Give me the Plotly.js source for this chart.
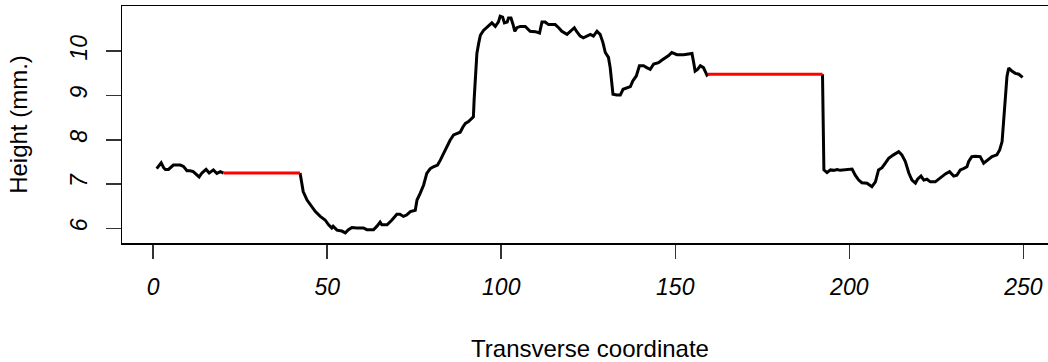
<!DOCTYPE html>
<html>
<head>
<meta charset="utf-8">
<script src="https://cdn.plot.ly/plotly-3.0.1.min.js"></script>
<style>
  html, body { margin: 0; padding: 0; background: #fff; overflow: hidden; }
  #chart { width: 1070px; height: 362px; }
</style>
</head>
<body>
<div id="chart"></div>
<script>
// Transverse height profile (mm.) with the two gaps bridged in red.
const profileX = [
  1, 2.3, 3, 3.5, 4.4, 5.8, 7.8, 8.7, 9.7, 10.6, 11.5, 12, 13.2, 14, 15.2, 16.1, 17.3, 18.3, 19.3, 20.2,
  null,
  42.2, 42.7, 43.1, 44.2, 45.1, 46.6, 48, 49.4, 50.4, 51.3, 51.7, 52.8, 54.2, 55.2, 56.1, 57.1, 58.5, 60.4,
  61.4, 63.3, 64.3, 65.2, 65.7, 67.2, 68.6, 70, 70.9, 71.9, 72.8, 73.9, 75.3, 75.8, 76.7, 77.7, 78.6, 79.6,
  80.5, 81.7, 82.5, 83.4, 84.4, 85.3, 86.3, 87.2, 88.2, 89, 89.7, 90.6, 91.6, 92, 92.2, 92.5, 93, 93.5, 94,
  94.9, 95.9, 97.3, 98.3, 99.2, 99.7, 100.4, 100.9, 101.7, 102.1, 102.8, 103.4, 103.9, 104.5, 105.5, 106.9,
  108.3, 109.8, 111, 111.7, 112.6, 113.6, 115.5, 116.5, 117.4, 118.9, 119.8, 121, 121.7, 122.7, 123.6, 124.6,
  125.6, 126.5, 127.5, 128.4, 129.2, 129.9, 130.8, 131.3, 131.8, 132.1, 133.2, 134.2, 135, 136.1, 137.1,
  137.8, 138.8, 139.7, 140.9, 141.8, 142.8, 143.8, 145.2, 146.2, 147.1, 148.1, 149, 150.5, 152.4, 153.4,
  154.8, 155.3, 155.7, 156.4, 157.2, 158.1, 158.6, 159.1, 159.4,
  null,
  192.3, 192.6, 192.7, 193.6, 194.6, 195.5, 196.5, 197.4, 198.4, 199.3, 200.8, 201.7, 202.7, 203.6, 205.1,
  206.5, 207.5, 208.4, 209.4, 210.3, 211.3, 212.7, 214.2, 215.1, 216.1, 217.1, 218, 219, 219.6, 220.6, 221.4,
  222.3, 223.3, 224.7, 225.7, 226.6, 227.6, 228.8, 230, 230.9, 231.9, 232.8, 233.8, 234.3, 235.2, 236.2,
  237.6, 238.6, 239.6, 241, 242.4, 243.2, 243.9, 244.3, 244.8, 245.3, 245.8, 246.7, 247.7, 248.7, 249.8
];
const profileY = [
  7.35, 7.48, 7.37, 7.33, 7.33, 7.43, 7.43, 7.40, 7.30, 7.30, 7.28, 7.25, 7.16, 7.25, 7.33, 7.25, 7.32, 7.24, 7.28, 7.25,
  null,
  7.25, 7.02, 6.83, 6.64, 6.55, 6.38, 6.27, 6.19, 6.08, 6.01, 6.05, 5.96, 5.94, 5.90, 5.97, 6.02, 6.01, 6.01,
  5.97, 5.97, 6.05, 6.14, 6.08, 6.08, 6.19, 6.32, 6.32, 6.27, 6.30, 6.38, 6.41, 6.64, 6.79, 6.98, 7.24, 7.35,
  7.39, 7.43, 7.54, 7.69, 7.84, 7.99, 8.11, 8.14, 8.17, 8.29, 8.37, 8.41, 8.48, 8.52, 8.89, 9.42, 9.95, 10.17, 10.36,
  10.47, 10.55, 10.64, 10.56, 10.66, 10.79, 10.77, 10.64, 10.66, 10.75, 10.75, 10.60, 10.45, 10.53, 10.56, 10.56,
  10.45, 10.44, 10.41, 10.66, 10.66, 10.60, 10.60, 10.53, 10.45, 10.38, 10.44, 10.53, 10.44, 10.34, 10.30, 10.34,
  10.38, 10.34, 10.45, 10.38, 10.20, 9.97, 9.86, 9.63, 9.26, 9.03, 9.01, 9.01, 9.14, 9.18, 9.20,
  9.33, 9.44, 9.67, 9.67, 9.63, 9.59, 9.71, 9.74, 9.80, 9.84, 9.90, 9.97, 9.92, 9.92, 9.93,
  9.95, 9.74, 9.55, 9.59, 9.67, 9.63, 9.55, 9.46, 9.48,
  null,
  9.48, 8.41, 7.32, 7.26, 7.32, 7.31, 7.33, 7.31, 7.32, 7.34, 7.34, 7.20, 7.09, 7.03, 7.02,
  6.94, 7.05, 7.32, 7.37, 7.47, 7.58, 7.66, 7.73, 7.66, 7.51, 7.25, 7.09, 7.02, 7.11, 7.18, 7.09,
  7.11, 7.05, 7.05, 7.11, 7.17, 7.23, 7.28, 7.18, 7.20, 7.32, 7.35, 7.39, 7.51, 7.62, 7.63,
  7.62, 7.47, 7.54, 7.62, 7.66, 7.77, 7.96, 8.37, 8.98, 9.43, 9.62, 9.55, 9.50, 9.48, 9.41
];

// Bridged gaps (drawn in red)
const gapX = [20.2, 42.2, null, 159.4, 192.3];
const gapY = [7.25, 7.25, null, 9.48, 9.48];

const xTicks = [0, 50, 100, 150, 200, 250];
const yTicks = [6, 7, 8, 9, 10];

const fontFamily = '"Liberation Sans", Arial, Helvetica, sans-serif';

const traces = [
  {
    x: profileX, y: profileY, type: 'scatter', mode: 'lines',
    line: { color: '#000000', width: 3 }, connectgaps: false, hoverinfo: 'x+y'
  },
  {
    x: gapX, y: gapY, type: 'scatter', mode: 'lines',
    line: { color: '#ff0000', width: 3 }, connectgaps: false, hoverinfo: 'x+y'
  }
];

const axisCommon = {
  showgrid: false, zeroline: false,
  showline: true, mirror: true, linecolor: '#000000', linewidth: 1.5,
  ticks: 'outside', tickcolor: '#333333', tickwidth: 1.5,
  tickfont: { family: fontFamily, size: 23, color: '#000000', style: 'italic' },
  fixedrange: true
};

const layout = {
  width: 1070, height: 362,
  margin: { l: 122, r: 12, t: 6, b: 119 },
  paper_bgcolor: '#ffffff', plot_bgcolor: '#ffffff',
  showlegend: false,
  font: { family: fontFamily, color: '#000000' },
  xaxis: Object.assign({}, axisCommon, {
    range: [-8.96, 259.96],
    tickmode: 'array', tickvals: xTicks, ticktext: xTicks.map(String),
    ticklen: 14, ticklabelstandoff: 9,
    title: { text: 'Transverse coordinate', font: { family: fontFamily, size: 24, color: '#000000' }, standoff: 46 }
  }),
  yaxis: Object.assign({}, axisCommon, {
    range: [5.67, 11.02],
    tickmode: 'array', tickvals: yTicks, ticktext: yTicks.map(String),
    ticklen: 15, tickangle: -90, ticklabelstandoff: 9,
    title: { text: 'Height (mm.)', font: { family: fontFamily, size: 24, color: '#000000' }, standoff: 32 }
  })
};

Plotly.newPlot('chart', traces, layout, { staticPlot: true, displayModeBar: false });
</script>
</body>
</html>
